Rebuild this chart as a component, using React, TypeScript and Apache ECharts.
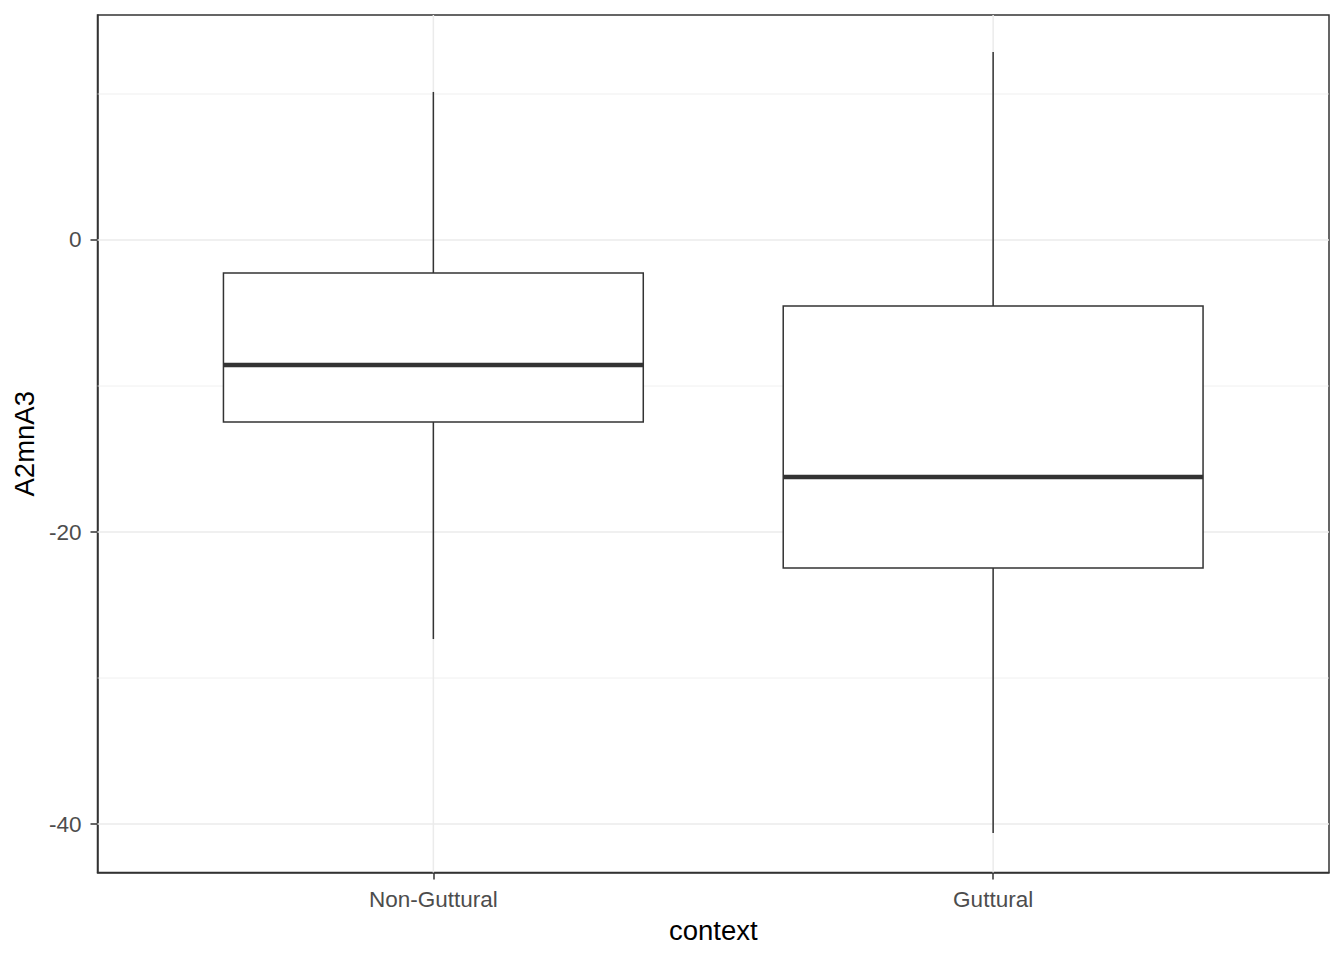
import React, { useEffect, useRef } from "react";
import * as echarts from "echarts";

const categories = ["Non-Guttural", "Guttural"];
const whiskerLow = [-27.33, -40.62];
const q1 = [-12.47, -22.47];
const median = [-8.56, -16.23];
const q3 = [-2.26, -4.52];
const whiskerHigh = [10.14, 12.88];

const yMajor = [-40, -20, 0];
const yMinor = [-30, -10, 10];
const xPositions = [1, 2];

const Y_MIN = -43.32;
const Y_MAX = 15.41;
const X_MIN = 0.4;
const X_MAX = 2.6;

export default function App() {
  const ref = useRef<HTMLDivElement>(null);
  useEffect(() => {
    if (!ref.current) return;
    const chart = echarts.init(ref.current, null, { renderer: "svg" });
    const font = "'Liberation Sans', Arial, sans-serif";
    const gridLines: any[] = [
      ...yMajor.map((v) => ["h", v, 1.5]),
      ...yMinor.map((v) => ["h", v, 0.75]),
      ...xPositions.map((v) => ["v", v, 1.5]),
    ];
    const boxData = categories.map((c, i) => [
      xPositions[i],
      whiskerLow[i],
      q1[i],
      median[i],
      q3[i],
      whiskerHigh[i],
    ]);
    chart.setOption({
      animation: false,
      backgroundColor: "#ffffff",
      grid: {
        left: 97.5,
        right: 15,
        top: 15,
        bottom: 87.5,
        show: true,
        borderColor: "#333333",
        borderWidth: 1.5,
        backgroundColor: "#ffffff",
      },
      xAxis: {
        type: "value",
        min: X_MIN,
        max: X_MAX,
        name: "context",
        nameLocation: "middle",
        nameGap: 44,
        nameTextStyle: { color: "#000000", fontSize: 27.5, fontFamily: font },
        axisLine: { show: true, onZero: false, lineStyle: { color: "#333333", width: 1.5 } },
        axisTick: {
          show: true,
          customValues: xPositions,
          length: 7,
          lineStyle: { color: "#333333", width: 1.5 },
        },
        axisLabel: {
          show: true,
          customValues: xPositions,
          margin: 15,
          color: "#4D4D4D",
          fontSize: 22.5,
          fontFamily: font,
          formatter: (v: number) => {
            const idx = xPositions.indexOf(Math.round(v));
            return idx >= 0 ? categories[idx] : "";
          },
        },
        splitLine: { show: false },
      },
      yAxis: {
        type: "value",
        min: Y_MIN,
        max: Y_MAX,
        name: "A2mnA3",
        nameLocation: "middle",
        nameGap: 58,
        nameTextStyle: { color: "#000000", fontSize: 27.5, fontFamily: font },
        axisLine: { show: true, onZero: false, lineStyle: { color: "#333333", width: 1.5 } },
        axisTick: {
          show: true,
          customValues: yMajor,
          length: 7,
          lineStyle: { color: "#333333", width: 1.5 },
        },
        axisLabel: {
          show: true,
          customValues: yMajor,
          margin: 16,
          color: "#4D4D4D",
          fontSize: 22.5,
          fontFamily: font,
        },
        splitLine: { show: false },
      },
      series: [
        {
          type: "custom",
          z: 1,
          silent: true,
          data: gridLines,
          renderItem: (params: any, api: any) => {
            const kind = gridLines[params.dataIndex][0];
            const val = gridLines[params.dataIndex][1];
            const w = gridLines[params.dataIndex][2];
            const cs = params.coordSys;
            if (kind === "h") {
              const y = api.coord([X_MIN, val])[1];
              return {
                type: "line",
                shape: { x1: cs.x, y1: y, x2: cs.x + cs.width, y2: y },
                style: { stroke: "#EBEBEB", lineWidth: w },
              };
            }
            const x = api.coord([val, 0])[0];
            return {
              type: "line",
              shape: { x1: x, y1: cs.y, x2: x, y2: cs.y + cs.height },
              style: { stroke: "#EBEBEB", lineWidth: w },
            };
          },
          encode: { x: 1, y: 1 },
        },
        {
          type: "custom",
          z: 2,
          silent: true,
          data: boxData,
          encode: { x: 0, y: [1, 2, 3, 4, 5] },
          renderItem: (params: any, api: any) => {
            const x = api.value(0);
            const half = 0.375;
            const pLow = api.coord([x, api.value(1)]);
            const pQ1 = api.coord([x, api.value(2)]);
            const pMed = api.coord([x, api.value(3)]);
            const pQ3 = api.coord([x, api.value(4)]);
            const pHigh = api.coord([x, api.value(5)]);
            const xl = api.coord([x - half, 0])[0];
            const xr = api.coord([x + half, 0])[0];
            const stroke = "#333333";
            return {
              type: "group",
              children: [
                {
                  type: "line",
                  shape: { x1: pLow[0], y1: pLow[1], x2: pQ1[0], y2: pQ1[1] },
                  style: { stroke, lineWidth: 1.5 },
                },
                {
                  type: "line",
                  shape: { x1: pQ3[0], y1: pQ3[1], x2: pHigh[0], y2: pHigh[1] },
                  style: { stroke, lineWidth: 1.5 },
                },
                {
                  type: "rect",
                  shape: { x: xl, y: pQ3[1], width: xr - xl, height: pQ1[1] - pQ3[1] },
                  style: { fill: "#ffffff", stroke, lineWidth: 1.5 },
                },
                {
                  type: "line",
                  shape: { x1: xl, y1: pMed[1], x2: xr, y2: pMed[1] },
                  style: { stroke, lineWidth: 4.5 },
                },
              ],
            };
          },
        },
      ],
    });
    return () => chart.dispose();
  }, []);
  return (
    <div
      ref={ref}
      style={{ position: "absolute", left: 0, top: 0, width: 1344, height: 960 }}
    />
  );
}
